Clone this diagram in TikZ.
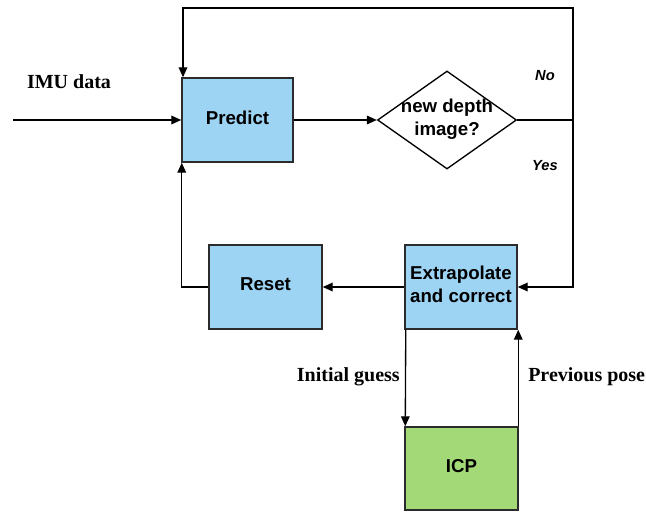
\documentclass[tikz,border=0pt]{standalone}
\usepackage{fontspec}
\setmainfont{Liberation Serif}
\setsansfont{Liberation Sans}
\usetikzlibrary{arrows.meta,shapes.geometric,calc}
\definecolor{boxblue}{HTML}{9DD3F3}
\definecolor{boxgreen}{HTML}{A3D977}
\definecolor{edge}{HTML}{2B2B2B}
\tikzset{
  stepbox/.style={draw=edge,line width=1.1pt,fill=boxblue,minimum width=111*0.75pt,
    minimum height=84*0.75pt,inner sep=0pt},
  boxtext/.style={align=center,inner sep=0pt,yshift=2pt,
    font=\sffamily\bfseries\fontsize{14}{17}\selectfont},
  decision/.style={draw=black,line width=1pt,diamond,aspect=1.42,minimum width=139*0.75pt,
    minimum height=98*0.75pt,inner sep=0pt},
  flow/.style={draw=black,line width=1pt,-{Triangle[length=7.5pt,width=6.5pt]}},
  link/.style={draw=black,line width=1pt},
  seriflabel/.style={font=\rmfamily\bfseries\fontsize{15}{18}\selectfont,inner sep=0pt},
  branch/.style={font=\sffamily\bfseries\itshape\fontsize{11}{13}\selectfont,inner sep=0pt}
}
\begin{document}
\begin{tikzpicture}[x=0.75pt,y=-0.75pt]
\useasboundingbox (0,0) rectangle (646,511);

% process boxes
\node[stepbox,label={[boxtext]center:Predict}] (predict) at (237.5,120) {};
\node[decision,label={[boxtext,font=\sffamily\bfseries\fontsize{14}{17}\selectfont,yshift=-1.5pt]center:new depth\\image?}]
  (depth) at (447,120) {};
\node[stepbox,minimum width=113*0.75pt,label={[boxtext]center:Reset}] (reset) at (265.5,287) {};
\node[stepbox,minimum width=112*0.75pt,
  label={[boxtext]center:Extrapolate\\and correct}] (extra) at (461,287) {};
\node[stepbox,fill=boxgreen,minimum width=113*0.75pt,minimum height=83*0.75pt,
  label={[boxtext]center:ICP}] (icp) at (461.5,468.5) {};

% routing points
\coordinate (imu) at (13,120);
\coordinate (junc) at (573,120);
\coordinate (topright) at (573,8);
\coordinate (topleft) at (183,8);

% labels
\node[seriflabel] (imulbl) at (69,82) {IMU data};
\node[branch] (nolbl) at (545,76) {No};
\node[branch] (yeslbl) at (545,166) {Yes};
\node[seriflabel,anchor=east] (guess) at (400,377) {Initial guess};
\node[seriflabel,anchor=west] (prev) at (528,377) {Previous pose};

% connectors
\draw[flow] (imu) -- (predict.west);
\draw[flow] (predict.east) -- (depth.west);
\draw[link] (depth.east) -- (junc);
\draw[flow] (junc) -- (topright) -- (topleft) -- (topleft |- predict.north);
\draw[flow] (junc) |- (extra.east);
\draw[flow] (extra.west) -- (reset.east);
\draw[flow] (reset.west) -| ($(predict.south west)+(0.5,0)$);
\draw[flow] ($(extra.south west)+(1.5,0)$) -- ($(icp.north west)+(1,0)$);
\draw[flow] ($(icp.north east)+(-0.5,0)$) -- ($(extra.south east)+(0.5,0)$);
\end{tikzpicture}
\end{document}
